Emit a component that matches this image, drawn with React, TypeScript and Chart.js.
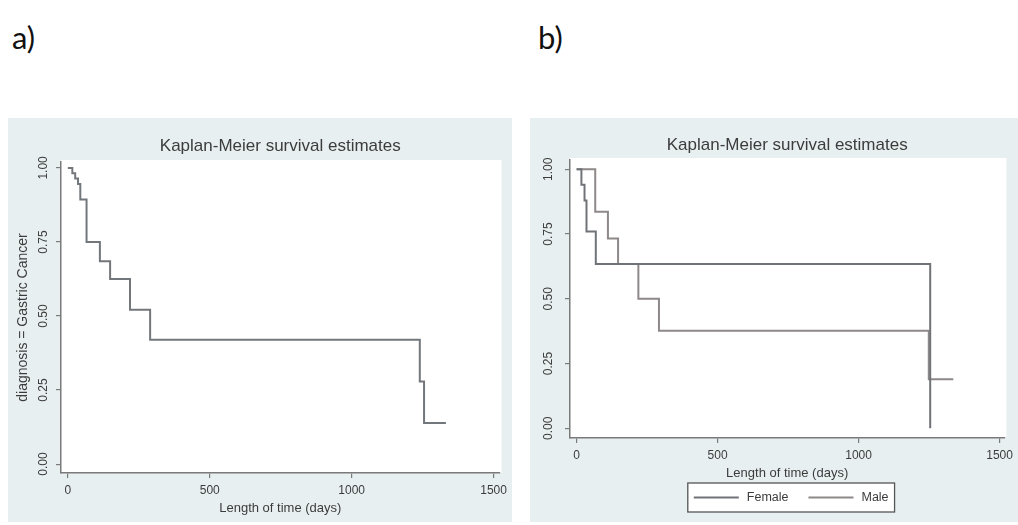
import React, { useEffect, useRef } from "react";
import { Chart, registerables } from "chart.js";

Chart.register(...registerables);

// ---------- text ----------
const PANEL_LABELS = ["a)", "b)"];
const TITLE = "Kaplan-Meier survival estimates";
const X_TITLE = "Length of time (days)";
const Y_TITLE_A = "diagnosis = Gastric Cancer";

// ---------- ticks ----------
const X_TICKS = [0, 500, 1000, 1500];
const Y_TICKS = [0, 0.25, 0.5, 0.75, 1];

// ---------- panel a: all patients ----------
const A_TIME = [0, 16, 26, 36, 44, 66, 113, 149, 219, 290, 1240, 1255, 1332];
const A_SURV = [1, 0.982, 0.964, 0.946, 0.893, 0.75, 0.685, 0.625, 0.521, 0.42, 0.279, 0.139, 0.139];

// ---------- panel b: by sex ----------
const SERIES_B = ["Female", "Male"];
const FEMALE_TIME = [0, 17, 28, 35, 68, 1254];
const FEMALE_SURV = [1, 0.94, 0.88, 0.76, 0.634, 0];
const MALE_TIME = [0, 66, 111, 147, 219, 292, 1249, 1336];
const MALE_SURV = [1, 0.836, 0.733, 0.634, 0.5, 0.377, 0.189, 0.189];

const FONT = "'Liberation Sans', Arial, sans-serif";
const BG = "#e8eff1";
const AXIS = "#7a7a7a";
const TEXT = "#3c3c3c";
const LINE_A = "#72777c";
const LINE_F = "#6f7378";
const LINE_M = "#8e8888";

const toPts = (t: number[], s: number[]) => t.map((x, i) => ({ x, y: s[i] }));

function plotBgPlugin() {
  return {
    id: "plotBg",
    beforeDraw(chart: any) {
      const { ctx, chartArea: a } = chart;
      ctx.save();
      ctx.fillStyle = "#ffffff";
      ctx.fillRect(a.left, a.top - 2, a.right - a.left + 2, a.bottom - a.top + 2);
      ctx.restore();
    },
  };
}

function titlePlugin(text: string, y: number) {
  return {
    id: "kmTitle",
    afterDraw(chart: any) {
      const { ctx, chartArea: a } = chart;
      ctx.save();
      ctx.font = `17px ${FONT}`;
      ctx.fillStyle = TEXT;
      ctx.textAlign = "center";
      ctx.textBaseline = "middle";
      ctx.fillText(text, (a.left + a.right) / 2, y);
      ctx.restore();
    },
  };
}

function legendPlugin(gapBelowArea: number) {
  return {
    id: "kmLegend",
    afterDraw(chart: any) {
      const { ctx, chartArea: a } = chart;
      const ds = chart.data.datasets;
      ctx.save();
      ctx.font = `12.5px ${FONT}`;
      const sample = 45, gapT = 8, gapItem = 20, pad = 6, h = 29;
      let total = pad * 2;
      ds.forEach((d: any, i: number) => {
        total += sample + gapT + ctx.measureText(d.label).width + (i > 0 ? gapItem : 0);
      });
      const cx = (a.left + a.right) / 2 + 4;
      const left = cx - total / 2;
      const top = a.bottom + gapBelowArea;
      ctx.fillStyle = "#ffffff";
      ctx.fillRect(left, top, total, h);
      ctx.strokeStyle = "#555555";
      ctx.lineWidth = 1.3;
      ctx.strokeRect(left, top, total, h);
      let x = left + pad;
      const cy = top + h / 2;
      ds.forEach((d: any, i: number) => {
        if (i > 0) x += gapItem;
        ctx.strokeStyle = d.borderColor;
        ctx.lineWidth = 2;
        ctx.beginPath();
        ctx.moveTo(x, cy);
        ctx.lineTo(x + sample, cy);
        ctx.stroke();
        x += sample + gapT;
        ctx.fillStyle = TEXT;
        ctx.textAlign = "left";
        ctx.textBaseline = "middle";
        ctx.fillText(d.label, x, cy);
        x += ctx.measureText(d.label).width;
      });
      ctx.restore();
    },
  };
}

type PanelCfg = {
  datasets: any[];
  padding: { top: number; right: number; left: number; bottom: number };
  yWidth: number;
  xHeight: number;
  xMin: number;
  xMax: number;
  yMin: number;
  yMax: number;
  yTickPad: number;
  yTitle?: string;
  titleY: number;
  legend: boolean;
};

function buildConfig(c: PanelCfg): any {
  const plugins: any[] = [plotBgPlugin(), titlePlugin(TITLE, c.titleY)];
  if (c.legend) plugins.push(legendPlugin(45));
  return {
    type: "line",
    data: { datasets: c.datasets },
    plugins,
    options: {
      animation: false,
      responsive: false,
      maintainAspectRatio: false,
      events: [],
      layout: { padding: c.padding },
      elements: { point: { radius: 0 }, line: { tension: 0 } },
      plugins: { legend: { display: false }, title: { display: false }, tooltip: { enabled: false } },
      scales: {
        x: {
          type: "linear",
          min: c.xMin,
          max: c.xMax,
          afterBuildTicks: (s: any) => {
            s.ticks = X_TICKS.map((v) => ({ value: v }));
          },
          afterFit: (s: any) => {
            s.height = c.xHeight;
          },
          border: { display: true, color: AXIS, width: 1.5 },
          grid: { display: true, drawOnChartArea: false, drawTicks: true, tickLength: 5, color: AXIS, lineWidth: 1.2 },
          ticks: {
            font: { family: FONT, size: 12 },
            color: TEXT,
            padding: 5,
            maxRotation: 0,
            minRotation: 0,
            callback: (v: any) => String(v),
          },
          title: { display: true, text: X_TITLE, font: { family: FONT, size: 13 }, color: TEXT, padding: { top: 0, bottom: 6 } },
        },
        y: {
          type: "linear",
          min: c.yMin,
          max: c.yMax,
          afterBuildTicks: (s: any) => {
            s.ticks = Y_TICKS.map((v) => ({ value: v }));
          },
          afterFit: (s: any) => {
            s.width = c.yWidth;
          },
          border: { display: true, color: AXIS, width: 1.5 },
          grid: { display: true, drawOnChartArea: false, drawTicks: true, tickLength: 5, color: AXIS, lineWidth: 1.2 },
          ticks: {
            font: { family: FONT, size: 12 },
            color: TEXT,
            padding: c.yTickPad,
            minRotation: 90,
            maxRotation: 90,
            crossAlign: "center",
            callback: (v: any) => Number(v).toFixed(2),
          },
          title: c.yTitle
            ? { display: true, text: c.yTitle, font: { family: FONT, size: 14 }, color: TEXT, padding: { top: 7, bottom: 0 } }
            : { display: false },
        },
      },
    },
  };
}

function Panel({ cfg, left, top, width, height }: { cfg: PanelCfg; left: number; top: number; width: number; height: number }) {
  const ref = useRef<HTMLCanvasElement | null>(null);
  useEffect(() => {
    if (!ref.current) return;
    const chart = new Chart(ref.current, buildConfig(cfg));
    return () => chart.destroy();
  }, []);
  return (
    <canvas
      ref={ref}
      width={width}
      height={height}
      style={{ position: "absolute", left, top, width, height, background: BG }}
    />
  );
}

const lineDs = (label: string, t: number[], s: number[], color: string) => ({
  label,
  data: toPts(t, s),
  borderColor: color,
  backgroundColor: color,
  borderWidth: 2,
  stepped: "before",
  fill: false,
  pointRadius: 0,
});

const CFG_A: PanelCfg = {
  datasets: [lineDs("All", A_TIME, A_SURV, LINE_A)],
  padding: { top: 44, right: 4, left: 0, bottom: 0 },
  yWidth: 53,
  xHeight: 49,
  xMin: -24,
  xMax: 1521,
  yMin: -0.03,
  yMax: 1.02,
  yTickPad: 1,
  yTitle: Y_TITLE_A,
  titleY: 28,
  legend: false,
};

const CFG_B: PanelCfg = {
  datasets: [
    lineDs(SERIES_B[0], FEMALE_TIME, FEMALE_SURV, LINE_F),
    lineDs(SERIES_B[1], MALE_TIME, MALE_SURV, LINE_M),
  ],
  padding: { top: 42, right: 8, left: 0, bottom: 35 },
  yWidth: 40,
  xHeight: 49,
  xMin: -23.5,
  xMax: 1517,
  yMin: -0.0375,
  yMax: 1.036,
  yTickPad: 5,
  titleY: 27,
  legend: true,
};

export default function App() {
  const labelStyle: React.CSSProperties = {
    position: "absolute",
    top: 22,
    fontFamily: "Lato, 'Open Sans', sans-serif",
    fontSize: 31,
    lineHeight: "31px",
    color: "#111",
  };
  return (
    <div style={{ position: "absolute", left: 0, top: 0, width: 1018, height: 525, background: "#fff", overflow: "hidden" }}>
      <div style={{ ...labelStyle, left: 12 }}>{PANEL_LABELS[0]}</div>
      <div style={{ ...labelStyle, left: 538 }}>{PANEL_LABELS[1]}</div>
      <Panel cfg={CFG_A} left={8} top={118} width={504} height={404} />
      <Panel cfg={CFG_B} left={530} top={118} width={488} height={404} />
    </div>
  );
}
